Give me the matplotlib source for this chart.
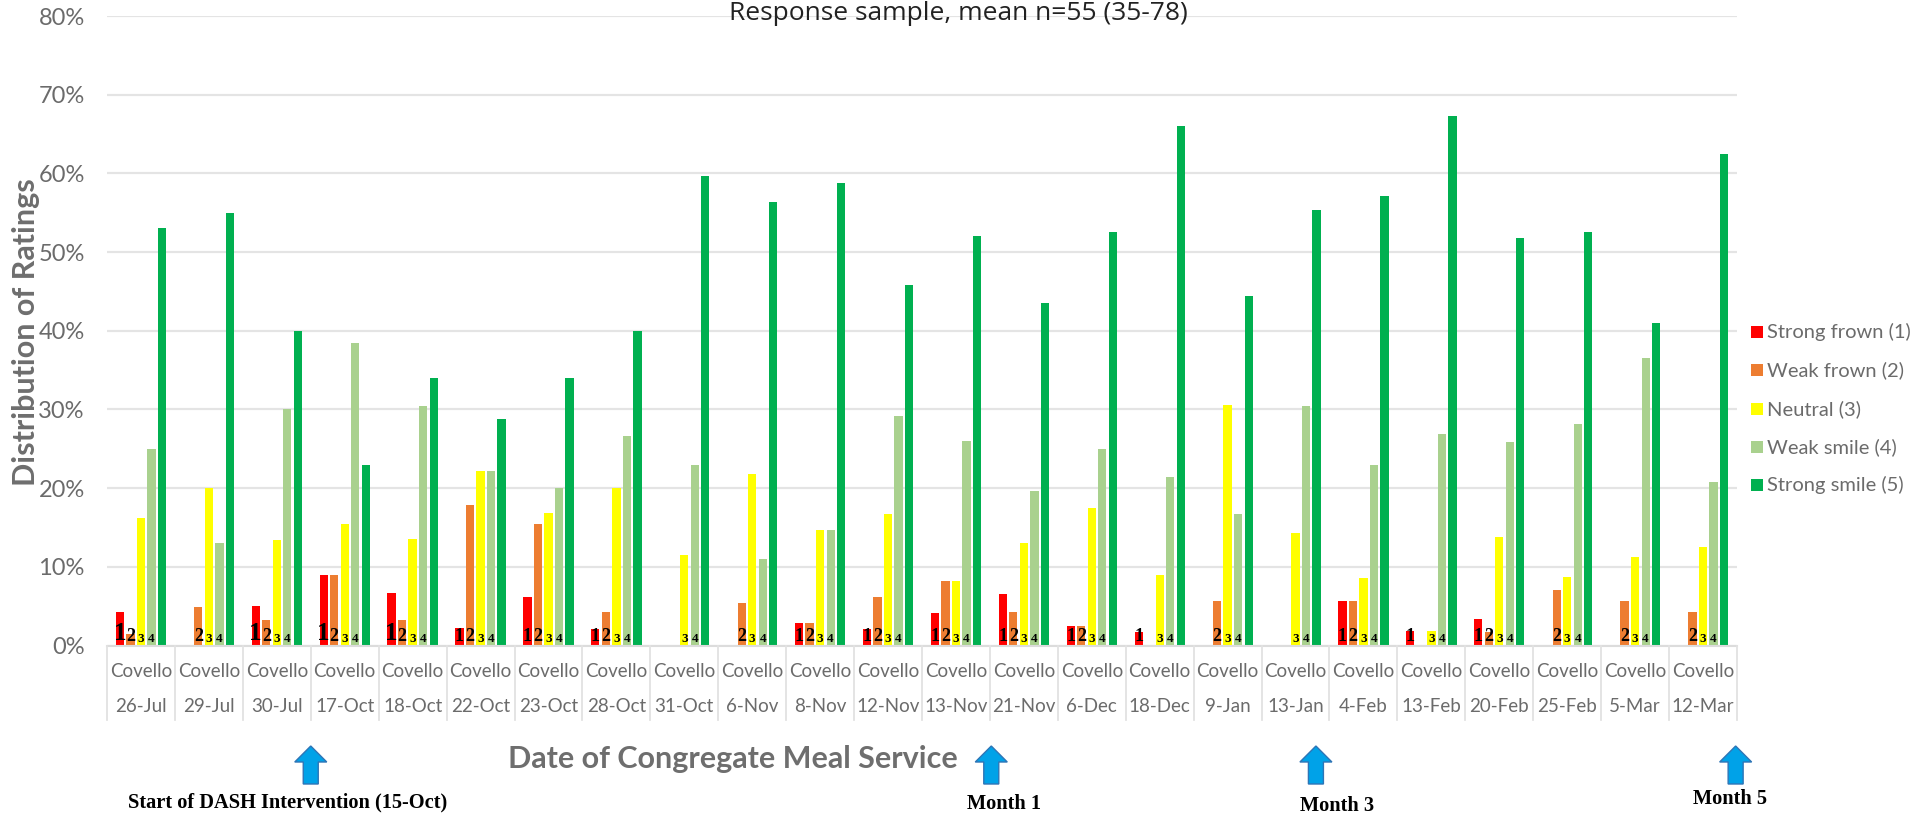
import numpy as np
import matplotlib
matplotlib.use("Agg")
import matplotlib.pyplot as plt
from matplotlib.patches import FancyArrow
from matplotlib.transforms import IdentityTransform

W,H = 1913,817

dates = ["26-Jul","29-Jul","30-Jul","17-Oct","18-Oct","22-Oct","23-Oct","28-Oct",
         "31-Oct","6-Nov","8-Nov","12-Nov","13-Nov","21-Nov","6-Dec","18-Dec",
         "9-Jan","13-Jan","4-Feb","13-Feb","20-Feb","25-Feb","5-Mar","12-Mar"]
site = "Covello"

strong_frown = [4.3,0,5.0,9.0,6.7,2.2,6.2,2.1,0,0,2.9,2.1,4.1,6.5,2.5,1.7,0,0,5.7,1.8,3.4,0,0,0]
weak_frown   = [1.4,4.9,3.3,9.0,3.3,17.8,15.4,4.3,0,5.4,2.9,6.2,8.2,4.3,2.5,0,5.6,0,5.7,0,1.7,7.0,5.6,4.2]
neutral      = [16.2,20.0,13.4,15.4,13.5,22.2,16.9,20.0,11.5,21.8,14.7,16.7,8.2,13.0,17.5,8.9,30.6,14.3,8.6,1.8,13.8,8.7,11.2,12.5]
weak_smile   = [25.0,13.0,30.0,38.5,30.5,22.2,20.0,26.6,23.0,11.0,14.7,29.2,26.0,19.6,25.0,21.4,16.7,30.4,22.9,26.9,25.9,28.1,36.6,20.8]
strong_smile = [53.0,55.0,40.0,23.0,34.0,28.8,34.0,40.0,59.7,56.4,58.8,45.8,52.0,43.5,52.5,66.0,44.4,55.3,57.1,67.3,51.8,52.6,41.0,62.5]

series = [("Strong frown (1)",strong_frown,"#ff0000"),
          ("Weak frown (2)",weak_frown,"#ed7d31"),
          ("Neutral (3)",neutral,"#ffff00"),
          ("Weak smile (4)",weak_smile,"#a9d18e"),
          ("Strong smile (5)",strong_smile,"#00b050")]

yticks = [0,10,20,30,40,50,60,70,80]

# arrows sit at these positions on the category scale, with their captions
arrow_pos = [3.0,13.02,17.8,23.98]
captions = ["Start of DASH Intervention (15-Oct)","Month 1","Month 3","Month 5"]
# dates whose "1" label was set larger than the rest
big_ones = ["26-Jul","30-Jul","17-Oct","18-Oct"]

GREY = "#6b6b6b"
plt.rcParams["font.family"] = ["Lato","DejaVu Sans"]

fig = plt.figure(figsize=(W/100,H/100),dpi=100)
# plot area in pixels: x 107..1737, y 16..645.5
ax = fig.add_axes([107/W,1-645.5/H,(1737-107)/W,(645.5-16)/H])
ax.set_xlim(0,24)
ax.set_ylim(0,80)
for s in ax.spines.values():
    s.set_visible(False)
ax.set_yticks(yticks)
ax.set_yticklabels([f"{v}%" for v in yticks],fontsize=17,color=GREY)
ax.tick_params(axis="y",length=0,pad=16)
ax.set_xticks([])
ax.grid(axis="y",color="#e4e4e4",lw=1.6)
ax.set_axisbelow(True)

x = np.arange(len(dates))+0.5
pitch,bw = 0.155,0.122
for i,(name,vals,col) in enumerate(series):
    ax.bar(x+(i-2)*pitch,vals,bw,color=col,label=name)

# rating digits at the foot of the bars
for i,(name,vals,col) in enumerate(series[:4]):
    for xx,v,d in zip(x,vals,dates):
        if v<=0:
            continue
        fs = {0:13,1:13,2:9.5,3:9.5}[i]
        if i==0 and d in big_ones:
            fs = 18
        ax.text(xx+(i-2)*pitch,0.1,str(i+1),ha="center",va="bottom",fontsize=fs,
                family="Liberation Serif",weight="bold",color="black")

# category axis, two levels below the baseline
tr = ax.get_xaxis_transform()
ax.plot([0,24],[0,0],color="#dcdcdc",lw=1.5,clip_on=False)
for k in range(25):
    ax.plot([k,k],[0,-0.118],transform=tr,color="#e2e2e2",lw=1.3,clip_on=False)
for xx,d in zip(x,dates):
    ax.text(xx,-0.042,site,transform=tr,ha="center",va="center",fontsize=13.5,color=GREY)
    ax.text(xx,-0.097,d,transform=tr,ha="center",va="center",fontsize=13.5,color=GREY)

fig.text(958/W,1-14/H,"Response sample, mean n=55 (35-78)",ha="center",va="center",
         fontsize=19,family="Open Sans",color="#222222")
fig.text(26/W,1-332/H,"Distribution of Ratings",rotation=90,ha="center",va="center",
         fontsize=22,weight="bold",color="#6e6e6e")
fig.text(733/W,1-759/H,"Date of Congregate Meal Service",ha="center",va="center",
         fontsize=22,weight="bold",color="#6e6e6e")

# intervention markers, drawn on the category scale
cap_x = [288,1004,1337,1730]
cap_y = [802,804,806,799]
for pos,cap,cx,cy in zip(arrow_pos,captions,cap_x,cap_y):
    px = ax.transData.transform((pos,0))[0]
    fig.add_artist(FancyArrow(px,H-784,0,38,width=15,head_width=32,head_length=16,
                              length_includes_head=True,transform=IdentityTransform(),
                              fc="#00a2e8",ec="#2e75b6",lw=1))
    fig.text(cx/W,1-cy/H,cap,ha="center",va="center",fontsize=14.7,
             family="Liberation Serif",weight="bold",color="black")

# legend entries are placed by hand to keep the wide row spacing
leg_y = [332,370,409,447,485]
for (name,vals,col),ly in zip(series,leg_y):
    fig.add_artist(plt.Rectangle((1751/W,1-(ly+6)/H),12/W,12/H,transform=fig.transFigure,fc=col,ec="none"))
    fig.text(1767/W,1-ly/H,name,ha="left",va="center",fontsize=14.5,color=GREY)

fig.savefig("out.png",dpi=100)
